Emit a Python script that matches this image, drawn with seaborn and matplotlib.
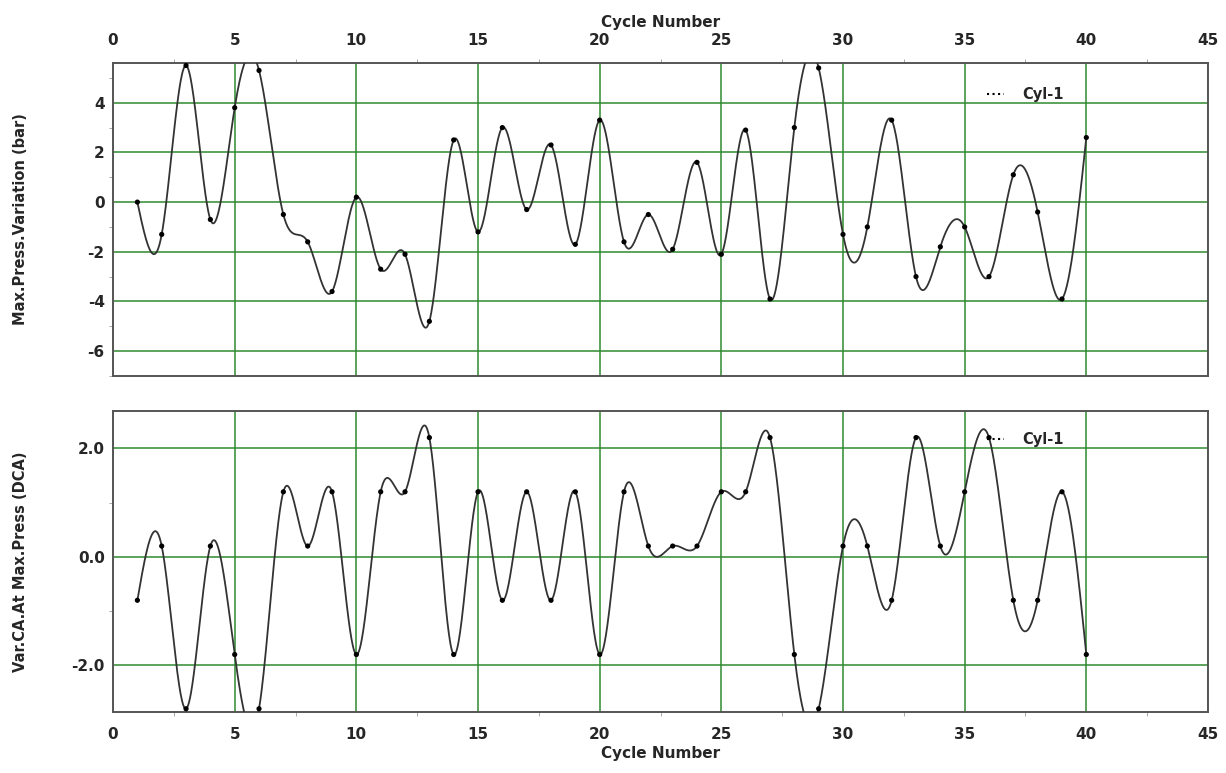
import numpy as np
import pandas as pd
import matplotlib
matplotlib.use("Agg")
import matplotlib.pyplot as plt
from matplotlib.lines import Line2D
from matplotlib.ticker import MultipleLocator, FormatStrFormatter
import seaborn as sns

cycles = list(range(1, 41))
press_var = [0.0, -1.3, 5.5, -0.7, 3.8, 5.3, -0.5, -1.6, -3.6, 0.2,
             -2.7, -2.1, -4.8, 2.5, -1.2, 3.0, -0.3, 2.3, -1.7, 3.3,
             -1.6, -0.5, -1.9, 1.6, -2.1, 2.9, -3.9, 3.0, 5.4, -1.3,
             -1.0, 3.3, -3.0, -1.8, -1.0, -3.0, 1.1, -0.4, -3.9, 2.6]
ca_var = [-0.8, 0.2, -2.8, 0.2, -1.8, -2.8, 1.2, 0.2, 1.2, -1.8,
          1.2, 1.2, 2.2, -1.8, 1.2, -0.8, 1.2, -0.8, 1.2, -1.8,
          1.2, 0.2, 0.2, 0.2, 1.2, 1.2, 2.2, -1.8, -2.8, 0.2,
          0.2, -0.8, 2.2, 0.2, 1.2, 2.2, -0.8, -0.8, 1.2, -1.8]
series_name = "Cyl-1"
xlabel = "Cycle Number"
ylabel_top = "Max.Press.Variation (bar)"
ylabel_bot = "Var.CA.At Max.Press (DCA)"


def natural_spline(x, y, n=2000):
    x = np.asarray(x, float)
    y = np.asarray(y, float)
    m = len(x)
    h = np.diff(x)
    A = np.zeros((m, m))
    r = np.zeros(m)
    A[0, 0] = 1
    A[-1, -1] = 1
    for i in range(1, m - 1):
        A[i, i - 1] = h[i - 1]
        A[i, i] = 2 * (h[i - 1] + h[i])
        A[i, i + 1] = h[i]
        r[i] = 3 * ((y[i + 1] - y[i]) / h[i] - (y[i] - y[i - 1]) / h[i - 1])
    c = np.linalg.solve(A, r)
    b = (y[1:] - y[:-1]) / h - h * (2 * c[:-1] + c[1:]) / 3
    d = (c[1:] - c[:-1]) / (3 * h)
    xs = np.linspace(x[0], x[-1], n)
    idx = np.clip(np.searchsorted(x, xs) - 1, 0, m - 2)
    dx = xs - x[idx]
    ys = y[idx] + b[idx] * dx + c[idx] * dx ** 2 + d[idx] * dx ** 3
    return xs, ys


sns.set_style("white")
plt.rcParams["font.family"] = ["DejaVu Sans"]
plt.rcParams["font.weight"] = "bold"
plt.rcParams["axes.unicode_minus"] = False

fig = plt.figure(figsize=(12.26, 7.73), dpi=100)
ax1 = fig.add_axes([0.0922, 0.5136, 0.8931, 0.4049])
ax2 = fig.add_axes([0.0922, 0.0789, 0.8931, 0.3894])

grid_c = "#2f8a2f"
frame_c = "#555555"
line_c = "#333333"

for ax, yvals, ylab, ylim, ymaj, ymin, fmt in [
        (ax1, press_var, ylabel_top, (-7.0, 5.6), 2, 1, "%d"),
        (ax2, ca_var, ylabel_bot, (-2.86, 2.69), 2, 1, "%.1f")]:
    xs, ys = natural_spline(cycles, yvals)
    df_s = pd.DataFrame({"x": xs, "y": ys})
    df_p = pd.DataFrame({"x": cycles, "y": yvals})
    sns.lineplot(data=df_s, x="x", y="y", ax=ax, color=line_c, lw=1.3,
                 sort=False, zorder=3, clip_on=True)
    sns.scatterplot(data=df_p, x="x", y="y", ax=ax, color="black", s=14,
                    edgecolor="none", zorder=4)
    ax.set_xlim(0, 45)
    ax.set_ylim(*ylim)
    ax.xaxis.set_major_locator(MultipleLocator(5))
    ax.xaxis.set_minor_locator(MultipleLocator(2.5))
    ax.yaxis.set_major_locator(MultipleLocator(ymaj))
    ax.yaxis.set_minor_locator(MultipleLocator(ymin))
    ax.yaxis.set_major_formatter(FormatStrFormatter(fmt))
    ax.grid(True, which="major", color=grid_c, lw=1.1)
    for s in ax.spines.values():
        s.set_color(frame_c)
        s.set_linewidth(1.4)
    ax.set_ylabel(ylab, fontsize=10.5, fontweight="bold")
    ax.yaxis.set_label_coords(-0.078, 0.5)
    ax.tick_params(axis="y", which="major", labelsize=11, length=0, pad=6)
    ax.tick_params(axis="x", which="major", labelsize=11, length=0, pad=11)
    ax.tick_params(axis="y", which="minor", length=3, color="#999999", left=True)
    ax.tick_params(axis="x", which="minor", length=3, color="#999999")
    for lbl in ax.get_xticklabels() + ax.get_yticklabels():
        lbl.set_fontweight("bold")
    handle = Line2D([0], [0], color="black", lw=1.5, ls=":")
    ax.legend([handle], [series_name], loc="center left", frameon=False,
              bbox_to_anchor=(0.786, 0.9 if ax is ax1 else 0.905),
              handlelength=1.2, handletextpad=1.2,
              prop={"weight": "bold", "size": 10.5})

ax1.xaxis.tick_top()
ax1.xaxis.set_label_position("top")
ax1.tick_params(axis="x", which="minor", top=True, bottom=False)
ax1.set_xlabel(xlabel, fontsize=11, fontweight="bold", labelpad=4)
ax2.tick_params(axis="x", which="minor", top=False, bottom=True)
ax2.set_xlabel(xlabel, fontsize=11, fontweight="bold", labelpad=3)
for lbl in ax1.get_xticklabels() + ax2.get_xticklabels():
    lbl.set_fontweight("bold")

fig.savefig("out.png", dpi=100, facecolor="white")
